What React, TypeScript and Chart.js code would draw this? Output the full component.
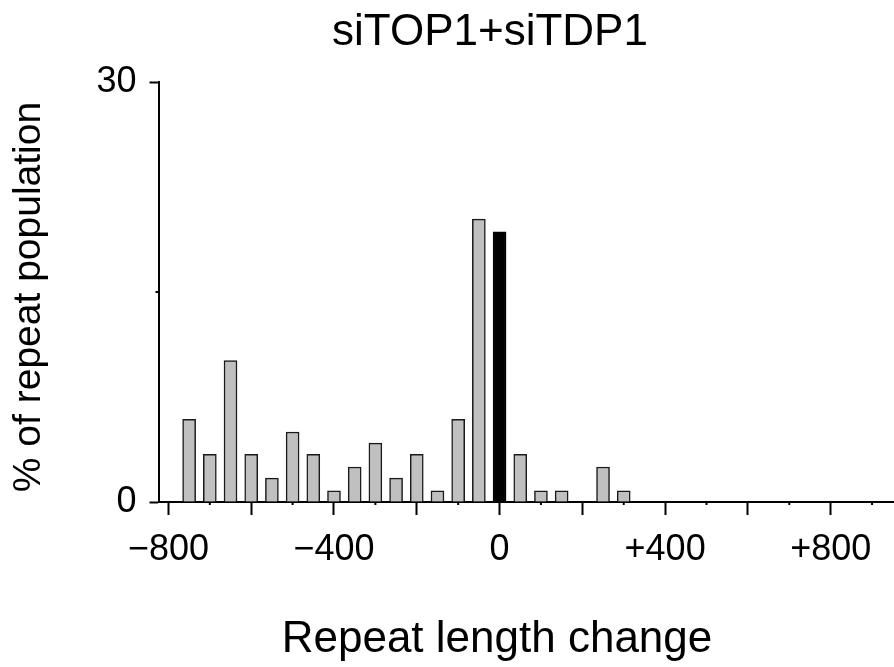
import React, { useEffect, useRef } from "react";
import { Chart, registerables } from "chart.js";

Chart.register(...registerables);

// ---- data ----
const binCenters = [-750, -700, -650, -600, -550, -500, -450, -400, -350, -300, -250, -200, -150, -100, -50, 0, 50, 100, 150, 200, 250, 300];
const percentValues = [5.9, 3.4, 10.1, 3.4, 1.7, 5.0, 3.4, 0.8, 2.5, 4.2, 1.7, 3.4, 0.8, 5.9, 20.2, 19.3, 3.4, 0.8, 0.8, 0, 2.5, 0.8];
const highlightBin = 0;
const xMajorTicks = [-800, -600, -400, -200, 0, 200, 400, 600, 800];
const xMinorTicks = [-700, -500, -300, -100, 100, 300, 500, 700, 900];
const xTickLabels: Record<string, string> = { "-800": "\u2212800", "-400": "\u2212400", "0": "0", "400": "+400", "800": "+800" };
const yTicks = [0, 30];
const yMinorTicks = [15];
const titleText = "siTOP1+siTDP1";
const xTitleText = "Repeat length change";
const yTitleText = "% of repeat population";

const FONT = "'Liberation Sans', Arial, Helvetica, sans-serif";

const annotations = {
  id: "annotations",
  afterDraw(chart: any) {
    const ctx = chart.ctx as CanvasRenderingContext2D;
    const xs = chart.scales.x;
    const ys = chart.scales.y;
    ctx.save();
    ctx.strokeStyle = "#000";
    ctx.lineWidth = 2;
    const y0 = ys.getPixelForValue(0);
    xMinorTicks.forEach((v) => {
      const p = xs.getPixelForValue(v);
      if (p < chart.width) {
        ctx.beginPath();
        ctx.moveTo(p, y0);
        ctx.lineTo(p, y0 + 3);
        ctx.stroke();
      }
    });
    const xl = xs.getPixelForValue(xs.min);
    yMinorTicks.forEach((v) => {
      const p = ys.getPixelForValue(v);
      ctx.beginPath();
      ctx.moveTo(xl, p);
      ctx.lineTo(xl - 3, p);
      ctx.stroke();
    });

    ctx.fillStyle = "#000";
    ctx.textAlign = "center";
    ctx.textBaseline = "alphabetic";
    ctx.font = `44px ${FONT}`;
    ctx.fillText(titleText, 490, 45);
    ctx.font = `44px ${FONT}`;
    ctx.fillText(xTitleText, 497, 652);
    ctx.font = `39px ${FONT}`;
    ctx.translate(40, 297);
    ctx.rotate(-Math.PI / 2);
    ctx.fillText(yTitleText, 0, 0);
    ctx.restore();
  },
};

export default function App() {
  const ref = useRef<HTMLCanvasElement | null>(null);
  useEffect(() => {
    if (!ref.current) return;
    const chart = new Chart(ref.current, {
      type: "bar",
      data: {
        datasets: [
          {
            data: binCenters.map((x, i) => ({ x, y: percentValues[i] })),
            backgroundColor: binCenters.map((x) => (x === highlightBin ? "#000000" : "#c0c0c0")),
            borderColor: binCenters.map((x) => (x === highlightBin ? "#000000" : "#1a1a1a")),
            borderWidth: 1.5,
            borderSkipped: "start",
            barThickness: 13,
          } as any,
        ],
      },
      options: {
        responsive: false,
        animation: false,
        layout: { padding: { top: 82, right: 0, left: 0, bottom: 0 } },
        plugins: { legend: { display: false }, tooltip: { enabled: false }, title: { display: false } },
        scales: {
          x: {
            type: "linear",
            min: -824,
            max: 953,
            offset: false,
            border: { display: true, color: "#000", width: 2 },
            grid: { display: true, offset: false, drawOnChartArea: false, drawTicks: true, tickLength: 13, tickWidth: 2, tickColor: "#000" },
            afterBuildTicks: (s: any) => {
              s.ticks = xMajorTicks.map((v) => ({ value: v }));
            },
            afterFit: (s: any) => {
              s.height = 165;
            },
            ticks: {
              autoSkip: false,
              maxRotation: 0,
              minRotation: 0,
              padding: 13,
              color: "#000",
              font: { family: FONT, size: 36 },
              callback: (v: any) => xTickLabels[String(v)] ?? "",
            },
          },
          y: {
            min: 0,
            max: 30,
            border: { display: true, color: "#000", width: 2 },
            grid: { display: true, offset: false, drawOnChartArea: false, drawTicks: true, tickLength: 9, tickWidth: 2, tickColor: "#000" },
            afterBuildTicks: (s: any) => {
              s.ticks = yTicks.map((v) => ({ value: v }));
            },
            afterFit: (s: any) => {
              s.width = 158.5;
            },
            ticks: {
              autoSkip: false,
              padding: 13,
              color: "#000",
              font: { family: FONT, size: 36 },
              callback: (v: any) => String(v),
            },
          },
        },
      },
      plugins: [annotations],
    });
    return () => chart.destroy();
  }, []);
  return (
    <div style={{ position: "fixed", left: 0, top: 0, width: 894, height: 667, background: "#fff" }}>
      <canvas ref={ref} width={894} height={667} style={{ display: "block" }} />
    </div>
  );
}
